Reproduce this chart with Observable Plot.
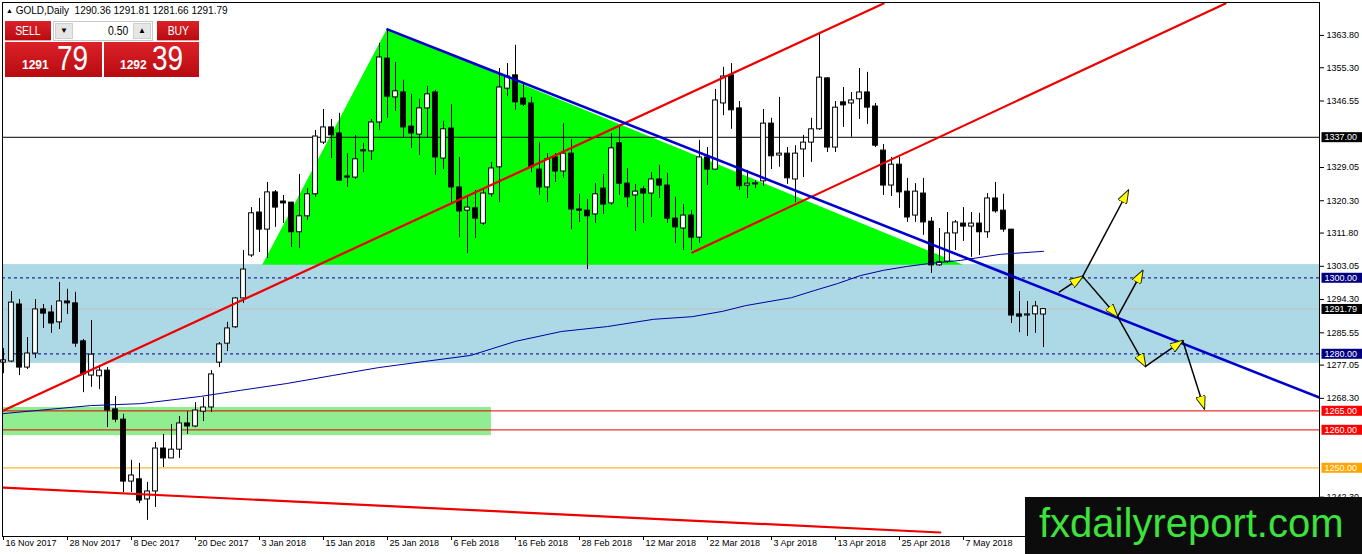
<!DOCTYPE html>
<html>
<head>
<meta charset="utf-8">
<script src="https://cdn.jsdelivr.net/npm/d3@7"></script>
<script src="https://cdn.jsdelivr.net/npm/@observablehq/plot@0.6"></script>
<style>
  body { margin: 0; background: #fff; }
  #wrap { position: relative; width: 1362px; height: 554px; overflow: hidden; font-family: "Liberation Sans", Arial, sans-serif; }
  #chart { position: absolute; left: 0; top: 0; }
  .hdr { position: absolute; left: 6px; top: 5px; font-size: 10px; color: #000; white-space: nowrap; }
  .hdr .tri { font-size: 7px; position: relative; top: -1px; }
  .red { background: linear-gradient(#dc2128, #b70b11); color: #fff; }
  .btn { position: absolute; top: 21px; height: 20px; line-height: 20px; text-align: center; font-size: 13px; border-bottom: 1px solid #f3a0a0; box-sizing: border-box; }
  .btn span, .lg { display: inline-block; transform: scaleX(0.8); }
  .sell { left: 5px; width: 46px; }
  .buy { left: 157px; width: 42px; }
  .lot { position: absolute; left: 53px; top: 21px; width: 100px; height: 20px; background: #fff; border: 1px solid #c9c9c9; box-sizing: border-box; font-size: 13px; }
  .spin { position: absolute; top: 1px; width: 18px; height: 16px; background: #e6e6e6; border: 1px solid #cfcfcf; box-sizing: border-box; font-size: 8px; line-height: 14px; text-align: center; }
  .spin.dn { left: 1px; }
  .spin.up { right: 1px; }
  .lot .val { position: absolute; right: 24px; top: 1px; display: inline-block; transform: scaleX(0.8); transform-origin: right; }
  .px { position: absolute; top: 42px; height: 35px; }
  .sellpx { left: 5px; width: 97px; }
  .buypx { left: 104px; width: 95px; }
  .px .sm { position: absolute; bottom: 5px; font-size: 12px; font-weight: bold; }
  .px .lg { position: absolute; bottom: -1px; font-size: 35px; transform-origin: left; }
  .sellpx .sm { left: 17px; }
  .sellpx .lg { left: 52px; }
  .buypx .sm { left: 16px; }
  .buypx .lg { left: 48px; }
  .wm { position: absolute; left: 1025px; top: 497px; width: 337px; height: 57px; background: #0c0c0c; color: #3de23d; font-size: 40px; line-height: 52px; padding-left: 14px; box-sizing: border-box; white-space: nowrap; }
</style>
</head>
<body>
<div id="wrap">
  <div id="chart"></div>
  <div class="hdr"><span class="tri">▲</span> GOLD,Daily&nbsp; 1290.36 1291.81 1281.66 1291.79</div>
  <div class="btn red sell"><span>SELL</span></div>
  <div class="lot"><div class="spin dn">▼</div><span class="val">0.50</span><div class="spin up">▲</div></div>
  <div class="btn red buy"><span>BUY</span></div>
  <div class="px red sellpx"><span class="sm">1291</span><span class="lg">79</span></div>
  <div class="px red buypx"><span class="sm">1292</span><span class="lg">39</span></div>
  <div class="wm">fxdailyreport.com</div>
</div>
<script>
// daily GOLD candles, 16 Nov 2017 .. 21 May 2018
const opens = [1277.7,1278.0,1293.0,1276.4,1280.1,1291.7,1290.9,1288.3,1293.8,1293.3,
  1283.3,1274.3,1274.1,1275.6,1265.4,1262.7,1246.4,1247.0,1241.7,1243.8,
  1255.1,1252.5,1254.8,1261.7,1260.9,1264.8,1265.9,1277.7,1282.7,1287.0,
  1294.6,1305.9,1317.2,1312.7,1322.5,1320.1,1319.8,1312.0,1316.2,1322.0,
  1335.6,1339.6,1338.0,1326.4,1326.4,1333.3,1333.3,1340.9,1357.7,1347.5,
  1348.8,1339.8,1337.7,1344.6,1348.8,1331.4,1339.3,1323.8,1317.7,1318.3,
  1314.3,1322.0,1329.1,1349.8,1353.3,1347.2,1345.9,1328.5,1323.8,1331.7,
  1328.0,1332.7,1317.7,1317.7,1316.7,1323.5,1319.6,1335.4,1324.8,1321.7,
  1323.3,1322.2,1325.9,1324.3,1315.6,1313.0,1316.4,1310.6,1331.7,1328.5,
  1345.9,1353.3,1344.6,1324.3,1324.6,1325.4,1340.6,1332.2,1332.7,1325.9,
  1333.8,1335.6,1339.1,1352.5,1334.3,1346.2,1345.9,1347.0,1348.8,1345.1,
  1333.5,1324.3,1329.8,1322.7,1316.4,1322.2,1314.8,1303.3,1304.3,1311.7,
  1314.3,1313.5,1314.3,1312.0,1320.9,1317.7,1312.7,1290.4,1290.1,1290.4,1290.36];
const highs = [1281.4,1296.4,1294.3,1284.3,1294.3,1293.0,1292.7,1298.8,1297.0,1296.2,
  1283.8,1288.8,1276.7,1276.4,1268.8,1264.1,1252.0,1251.2,1246.2,1256.7,
  1258.8,1261.4,1263.5,1264.8,1267.2,1268.5,1275.6,1283.0,1288.3,1294.8,
  1307.2,1318.5,1320.9,1325.1,1323.0,1321.7,1319.9,1327.2,1323.5,1338.8,
  1344.3,1341.7,1343.3,1332.7,1337.5,1335.4,1341.7,1361.7,1365.4,1356.7,
  1352.0,1348.3,1347.0,1350.4,1349.3,1341.2,1345.6,1331.7,1321.2,1323.0,
  1323.3,1330.4,1355.1,1356.4,1361.2,1351.2,1347.5,1335.6,1332.7,1332.7,
  1340.6,1336.4,1322.0,1320.6,1324.8,1327.2,1338.0,1339.6,1328.8,1324.6,
  1324.1,1327.7,1329.6,1327.5,1321.2,1319.3,1317.7,1336.2,1334.3,1349.6,
  1355.4,1356.4,1346.4,1328.3,1325.6,1344.3,1342.0,1347.5,1334.3,1334.8,
  1337.5,1342.0,1364.6,1352.7,1346.4,1350.1,1348.8,1355.1,1354.1,1345.9,
  1335.1,1331.7,1331.7,1326.2,1324.8,1326.2,1315.9,1313.0,1317.2,1315.1,
  1318.5,1317.2,1317.0,1322.2,1325.1,1322.0,1312.7,1296.4,1293.8,1293.8,1291.81];
const lows = [1274.8,1277.7,1274.3,1275.9,1278.8,1286.7,1285.4,1286.4,1290.4,1281.7,
  1269.8,1271.2,1270.6,1260.6,1261.9,1243.5,1243.5,1240.6,1236.2,1239.6,
  1250.1,1252.5,1252.5,1258.8,1260.6,1262.2,1264.6,1276.4,1280.6,1286.7,
  1293.3,1305.4,1306.7,1305.1,1313.3,1314.3,1308.0,1307.7,1315.1,1321.2,
  1335.1,1331.4,1325.4,1323.8,1325.9,1327.7,1330.9,1338.8,1342.0,1343.8,
  1337.0,1334.1,1332.2,1336.7,1327.0,1328.5,1319.8,1310.6,1306.4,1310.4,
  1313.8,1321.2,1319.8,1347.7,1344.1,1345.1,1327.7,1321.7,1319.8,1325.1,
  1326.2,1312.7,1314.6,1302.2,1314.3,1316.7,1319.1,1321.7,1318.5,1312.2,
  1314.3,1315.9,1320.9,1314.3,1309.1,1307.2,1307.2,1309.1,1324.3,1328.3,
  1342.7,1339.1,1323.0,1320.9,1323.5,1324.1,1328.5,1329.1,1324.6,1319.8,
  1326.4,1330.4,1338.8,1333.0,1333.0,1339.6,1337.0,1341.7,1340.4,1334.3,
  1321.7,1321.4,1318.3,1314.6,1314.6,1311.2,1301.2,1303.0,1303.8,1307.2,
  1309.6,1305.4,1305.9,1310.4,1317.0,1312.0,1288.0,1285.6,1284.6,1285.4,1281.66];
const closes = [1278.3,1293.5,1276.4,1280.1,1291.7,1290.6,1288.0,1293.8,1293.3,1282.7,
  1274.6,1279.8,1275.6,1265.1,1262.7,1246.4,1248.0,1241.4,1243.8,1255.1,
  1252.5,1254.8,1261.7,1260.9,1265.1,1265.9,1274.6,1282.5,1286.7,1294.6,
  1302.2,1317.0,1312.7,1322.5,1318.5,1319.6,1312.0,1316.2,1322.0,1337.2,
  1339.6,1337.5,1325.6,1326.2,1331.2,1333.5,1340.9,1358.0,1347.7,1349.1,
  1339.6,1338.0,1344.6,1348.3,1331.7,1339.1,1323.8,1317.5,1318.5,1315.6,
  1322.2,1328.8,1350.1,1353.0,1346.2,1345.6,1329.1,1323.8,1331.2,1328.0,
  1332.7,1318.0,1317.5,1316.2,1322.0,1319.3,1334.1,1324.8,1321.2,1322.7,
  1322.2,1325.9,1324.3,1315.6,1313.3,1316.4,1310.6,1331.7,1328.5,1346.7,
  1353.0,1344.1,1324.1,1324.8,1324.6,1340.6,1332.0,1332.7,1326.2,1332.7,
  1335.6,1339.1,1352.7,1334.3,1344.8,1345.4,1346.7,1348.8,1344.8,1334.8,
  1324.3,1329.8,1322.5,1315.9,1322.7,1314.6,1303.3,1304.1,1311.7,1314.6,
  1313.5,1314.3,1312.0,1320.9,1317.5,1312.7,1290.1,1289.8,1290.4,1292.5,1291.79];

// date axis labels (bar index -> label)
const dateBars = [0, 8, 16, 24, 32, 40, 48, 56, 64, 72, 80, 88, 96, 104, 112, 120];
const dateLabels = ["16 Nov 2017", "28 Nov 2017", "8 Dec 2017", "20 Dec 2017", "3 Jan 2018", "15 Jan 2018",
  "25 Jan 2018", "6 Feb 2018", "16 Feb 2018", "28 Feb 2018", "12 Mar 2018", "22 Mar 2018",
  "3 Apr 2018", "13 Apr 2018", "25 Apr 2018", "7 May 2018"];

// right price scale (the ones under the coloured boxes are left out)
const priceTicks = [1363.80, 1355.30, 1346.55, 1329.05, 1320.30, 1311.80, 1303.05,
  1294.30, 1285.55, 1277.05, 1268.30, 1242.30];

// moving average
const maBars = [0, 10.9, 17.1, 24.6, 29.6, 35.4, 41.1, 46.9, 52.6, 58.4, 64, 69.75, 75.5, 81.25,
  86.1, 89.9, 92.75, 98.5, 101.4, 104.25, 107.1, 110, 112.9, 115.75, 119.6, 124.6, 130];
const maPrices = [1264.3, 1266.4, 1266.9, 1268.8, 1270.4, 1272.2, 1274.3, 1276.4, 1278.0, 1279.6,
  1283.3, 1285.9, 1287.2, 1289.1, 1289.8, 1291.2, 1292.7, 1294.8, 1296.7, 1298.5, 1300.6,
  1302.0, 1303.0, 1303.8, 1304.6, 1306.2, 1307.0];

// drawn objects
const supportZone = [1277.5, 1303.5];          // light blue band
const greenZoneBars = [-1, 61];
const greenZonePrices = [1258.5, 1265.9];
const triangleBars = [32.4, 48, 120];
const trianglePrices = [1303.3, 1365.4, 1303.3];
const blueTrendBars = [48, 164.5];
const blueTrendPrices = [1365.4, 1268.5];
const redLowerBars = [0, 110];
const redLowerPrices = [1265.1, 1372.2];
const redUpperBars = [86.1, 152.75];
const redUpperPrices = [1306.7, 1372.2];
const redBottomBars = [0, 117.1];
const redBottomPrices = [1244.8, 1233.0];

// scenario arrows
const arrowBar1 = [131.9, 134.9, 134.9, 139.25, 139.25, 142.75, 147.4];
const arrowPrice1 = [1296.2, 1300.4, 1300.4, 1289.8, 1289.8, 1276.7, 1283.5];
const arrowBar2 = [134.9, 140.6, 139.25, 142.4, 142.75, 147.4, 150.1];
const arrowPrice2 = [1300.4, 1323.0, 1289.8, 1301.9, 1276.7, 1283.5, 1265.6];

// horizontal levels
const levelBlack = [1337.00];
const levelNavy = [1300.00, 1280.00];
const levelBid = [1291.79];
const levelRed = [1265.00, 1260.00];
const levelOrange = [1250.00];

const bars = opens.map((open, i) => ({i, open, high: highs[i], low: lows[i], close: closes[i]}));
const upBars = bars.filter(d => d.close >= d.open);
const downBars = bars.filter(d => d.close < d.open);
const bodyTop = d => Math.abs(d.close - d.open) < 0.3 ? d.open + 0.3 : d.close;
const seg = (bx, py) => bx.map((b, k) => ({b, p: py[k]}));
const arrows = arrowBar1.map((b, k) => ({b1: b, p1: arrowPrice1[k], b2: arrowBar2[k], p2: arrowPrice2[k]}));

const boxColor = new Map([
  ...levelBlack.map(v => [v.toFixed(2), "#000000"]),
  ...levelBid.map(v => [v.toFixed(2), "#000000"]),
  ...levelNavy.map(v => [v.toFixed(2), "#000080"]),
  ...levelRed.map(v => [v.toFixed(2), "#ff0000"]),
  ...levelOrange.map(v => [v.toFixed(2), "#ffa500"])
]);
const allLevels = [...levelBlack, ...levelNavy, ...levelBid, ...levelRed, ...levelOrange];

let chart = Plot.plot({
  width: 1362,
  height: 554,
  marginLeft: 2,
  marginRight: 43,
  marginTop: 2,
  marginBottom: 18,
  x: {domain: [-0.125, 164.5], axis: null},
  y: {domain: [1231.95, 1372.47], axis: null},
  style: {fontFamily: '"Liberation Sans", Arial, sans-serif', fontSize: "9px", background: "white", color: "black"},
  marks: [
    Plot.rect([supportZone], {y1: d => d[0], y2: d => d[1], fill: "#add8e6"}),
    Plot.rect([0], {x1: greenZoneBars[0], x2: greenZoneBars[1], y1: greenZonePrices[0], y2: greenZonePrices[1], fill: "#90ee90", clip: true}),
    Plot.areaY(seg(triangleBars, trianglePrices), {x: "b", y1: trianglePrices[0], y2: "p", fill: "#00ff00", curve: "linear"}),
    Plot.ruleY(levelBid, {stroke: "#c0c0c0"}),
    Plot.ruleY(levelBlack, {stroke: "black"}),
    Plot.ruleY(levelNavy, {stroke: "#000080", strokeDasharray: "3,3"}),
    Plot.ruleY(levelRed, {stroke: "#e00000"}),
    Plot.ruleY(levelOrange, {stroke: "#ffa500"}),
    // candles
    Plot.ruleX(bars, {x: "i", y1: "low", y2: "high", stroke: "black"}),
    Plot.rect(downBars, {x1: d => d.i - 0.3, x2: d => d.i + 0.3, y1: "open", y2: bodyTop, fill: "black", stroke: "black"}),
    Plot.rect(upBars, {x1: d => d.i - 0.3, x2: d => d.i + 0.3, y1: "open", y2: bodyTop, fill: "white", stroke: "black"}),
    // indicators and trendlines
    Plot.line(seg(maBars, maPrices), {x: "b", y: "p", stroke: "#0000a0", strokeWidth: 1}),
    Plot.line(seg(redLowerBars, redLowerPrices), {x: "b", y: "p", stroke: "#ee0000", strokeWidth: 2.2, clip: true}),
    Plot.line(seg(redUpperBars, redUpperPrices), {x: "b", y: "p", stroke: "#ee0000", strokeWidth: 2.2, clip: true}),
    Plot.line(seg(redBottomBars, redBottomPrices), {x: "b", y: "p", stroke: "#ee0000", strokeWidth: 2.2, clip: true}),
    Plot.line(seg(blueTrendBars, blueTrendPrices), {x: "b", y: "p", stroke: "#0000cd", strokeWidth: 2.6, clip: true}),
    Plot.link(arrows, {x1: "b1", y1: "p1", x2: "b2", y2: "p2", stroke: "black", strokeWidth: 1.5}),
    Plot.frame({stroke: "black"}),
    Plot.axisY(priceTicks, {anchor: "right", tickFormat: d => d.toFixed(2), tickSize: 4, tickPadding: 3, label: null}),
    Plot.axisX(dateBars, {anchor: "bottom", tickSize: 4, tickFormat: () => "", label: null}),
    Plot.text(dateBars, {x: d => d, text: (d, i) => dateLabels[i], frameAnchor: "bottom", dy: 9, dx: 2, textAnchor: "start"}),
    Plot.text(allLevels, {y: d => d, text: d => d.toFixed(2), frameAnchor: "right", dx: 5, textAnchor: "start", fill: "white"})
  ]
})

d3.select('#chart').append(() => chart)

// yellow arrowheads like the terminal's drawing tool
const svg = d3.select(chart);
svg.append("defs").append("marker")
  .attr("id", "yhead").attr("viewBox", "0 0 14 10").attr("refX", 13).attr("refY", 5)
  .attr("markerWidth", 14).attr("markerHeight", 10).attr("markerUnits", "userSpaceOnUse").attr("orient", "auto")
  .append("path").attr("d", "M0,0L14,5L0,10Z").attr("fill", "#ffff00").attr("stroke", "#222").attr("stroke-width", 1);
svg.selectAll('g[aria-label="link"] path').attr("marker-end", "url(#yhead)");

// coloured price boxes on the scale
const box = chart.getBoundingClientRect();
svg.selectAll("text").each(function () {
  const col = boxColor.get(this.textContent);
  if (!col) return;
  const r = this.getBoundingClientRect();
  const x0 = r.left - box.left - 3;
  const rect = d3.create("svg:rect")
    .attr("x", x0).attr("y", r.top - box.top)
    .attr("width", 1362 - x0).attr("height", r.height)
    .attr("fill", col).node();
  chart.insertBefore(rect, this.parentNode);
});
</script>
</body>
</html>
